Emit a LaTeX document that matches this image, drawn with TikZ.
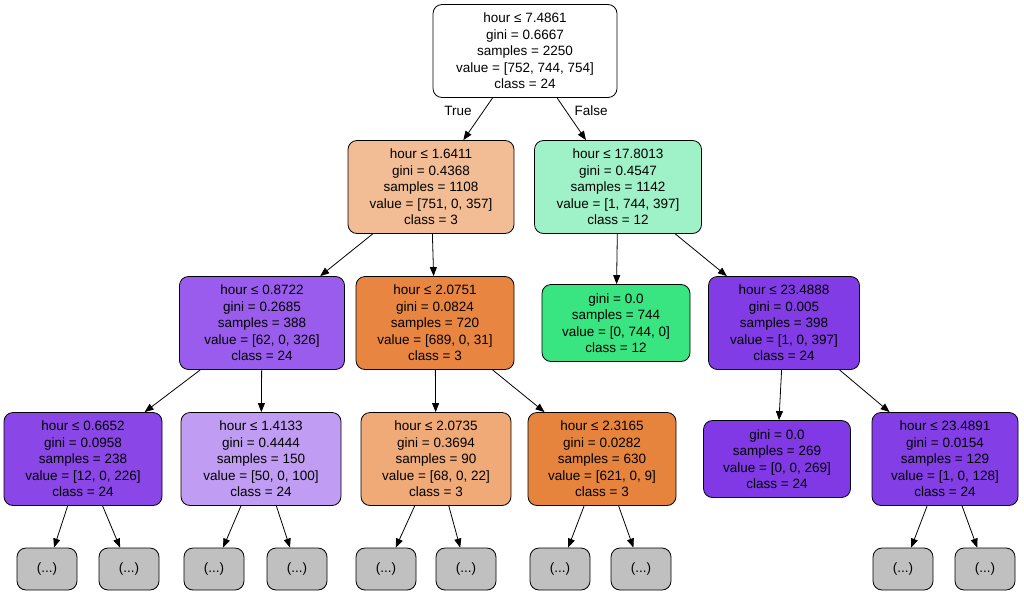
\documentclass[tikz,border=0pt]{standalone}
\usepackage{fontspec}
\setmainfont{Liberation Sans}
\usetikzlibrary{arrows.meta}
\begin{document}
\begin{tikzpicture}[x=1pt,y=-1pt,
 box/.style={draw=black,rounded corners=9pt,align=center,font=\fontsize{13.5}{16.5}\selectfont,inner sep=0pt,line width=0.8pt},
 b/.style={box,minimum height=93pt},
 s/.style={box,minimum height=77pt},
 leaf/.style={box,fill=leafc,minimum width=60pt,minimum height=42pt},
 e/.style={-{Triangle[length=9pt,width=7pt]},line width=0.8pt},
 lab/.style={font=\fontsize{13.5}{16}\selectfont}]
\definecolor{c1}{HTML}{F2BD94}\definecolor{c2}{HTML}{9FF2C8}\definecolor{c3}{HTML}{9A5CED}
\definecolor{c4}{HTML}{E88641}\definecolor{c5}{HTML}{39E581}\definecolor{c6}{HTML}{823CE5}
\definecolor{c7}{HTML}{8A46E7}\definecolor{c8}{HTML}{C09CF2}\definecolor{c9}{HTML}{EFAA78}
\definecolor{c10}{HTML}{E6843E}\definecolor{c11}{HTML}{8139E5}\definecolor{c12}{HTML}{833EE6}
\definecolor{leafc}{HTML}{C0C0C0}
\useasboundingbox (0,0) rectangle (1024,594);
\node[b,fill=white,minimum width=184pt] (r) at (525,51) {hour ≤ 7.4861\\gini = 0.6667\\samples = 2250\\value = [752, 744, 754]\\class = 24};
\node[b,fill=c1,minimum width=166pt] (n1) at (431,187) {hour ≤ 1.6411\\gini = 0.4368\\samples = 1108\\value = [751, 0, 357]\\class = 3};
\node[b,fill=c2,minimum width=167pt] (n2) at (618,187) {hour ≤ 17.8013\\gini = 0.4547\\samples = 1142\\value = [1, 744, 397]\\class = 12};
\node[b,fill=c3,minimum width=165pt] (n3) at (262,323) {hour ≤ 0.8722\\gini = 0.2685\\samples = 388\\value = [62, 0, 326]\\class = 24};
\node[b,fill=c4,minimum width=158pt] (n4) at (435,323) {hour ≤ 2.0751\\gini = 0.0824\\samples = 720\\value = [689, 0, 31]\\class = 3};
\node[s,fill=c5,minimum width=148pt] (n5) at (616,323) {gini = 0.0\\samples = 744\\value = [0, 744, 0]\\class = 12};
\node[b,fill=c6,minimum width=151pt] (n6) at (784,323) {hour ≤ 23.4888\\gini = 0.005\\samples = 398\\value = [1, 0, 397]\\class = 24};
\node[b,fill=c7,minimum width=158pt] (n7) at (83,459) {hour ≤ 0.6652\\gini = 0.0958\\samples = 238\\value = [12, 0, 226]\\class = 24};
\node[b,fill=c8,minimum width=160pt] (n8) at (261,459) {hour ≤ 1.4133\\gini = 0.4444\\samples = 150\\value = [50, 0, 100]\\class = 24};
\node[b,fill=c9,minimum width=150pt] (n9) at (436,459) {hour ≤ 2.0735\\gini = 0.3694\\samples = 90\\value = [68, 0, 22]\\class = 3};
\node[b,fill=c10,minimum width=148pt] (n10) at (602,459) {hour ≤ 2.3165\\gini = 0.0282\\samples = 630\\value = [621, 0, 9]\\class = 3};
\node[s,fill=c11,minimum width=147pt] (n11) at (777,459) {gini = 0.0\\samples = 269\\value = [0, 0, 269]\\class = 24};
\node[b,fill=c12,minimum width=146pt] (n12) at (945,459) {hour ≤ 23.4891\\gini = 0.0154\\samples = 129\\value = [1, 0, 128]\\class = 24};
\foreach \n/\x in {a/47,b/129,c/214,d/297,e/386,f/466,g/560,h/641,i/903,j/985}
  \node[leaf] (l\n) at (\x,569) {(...)};
\draw[e] (r) -- (n1); \draw[e] (r) -- (n2);
\draw[e] (n1) -- (n3); \draw[e] (n1) -- (n4);
\draw[e] (n2) -- (n5); \draw[e] (n2) -- (n6);
\draw[e] (n3) -- (n7); \draw[e] (n3) -- (n8);
\draw[e] (n4) -- (n9); \draw[e] (n4) -- (n10);
\draw[e] (n6) -- (n11); \draw[e] (n6) -- (n12);
\draw[e] (n7) -- (la); \draw[e] (n7) -- (lb);
\draw[e] (n8) -- (lc); \draw[e] (n8) -- (ld);
\draw[e] (n9) -- (le); \draw[e] (n9) -- (lf);
\draw[e] (n10) -- (lg); \draw[e] (n10) -- (lh);
\draw[e] (n12) -- (li); \draw[e] (n12) -- (lj);
\node[lab] (t) at (458,111) {True};
\node[lab] (f) at (591,111) {False};
\end{tikzpicture}
\end{document}
